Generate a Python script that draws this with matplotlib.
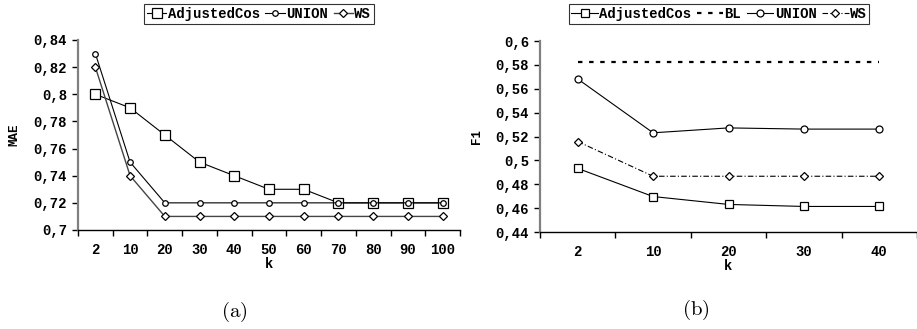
import numpy as np
import matplotlib
matplotlib.use("Agg")
import matplotlib.pyplot as plt
from matplotlib.ticker import FixedLocator, FuncFormatter

plt.rcParams["mathtext.fontset"] = "cm"

# panel (a): MAE vs k
k_a = ["2", "10", "20", "30", "40", "50", "60", "70", "80", "90", "100"]
mae_adjcos = [0.80, 0.79, 0.77, 0.75, 0.74, 0.73, 0.73, 0.72, 0.72, 0.72, 0.72]
mae_union = [0.83, 0.75, 0.72, 0.72, 0.72, 0.72, 0.72, 0.72, 0.72, 0.72, 0.72]
mae_ws = [0.82, 0.74, 0.71, 0.71, 0.71, 0.71, 0.71, 0.71, 0.71, 0.71, 0.71]

# panel (b): F1 vs k
k_b = ["2", "10", "20", "30", "40"]
f1_adjcos = [0.4933, 0.4697, 0.4631, 0.4614, 0.4614]
f1_bl = [0.5825, 0.5825, 0.5825, 0.5825, 0.5825]
f1_union = [0.5682, 0.5231, 0.5272, 0.5262, 0.5262]
f1_ws = [0.5158, 0.4867, 0.4867, 0.4867, 0.4867]

W, H = 917, 329
mono = "Liberation Mono"
fs = 10

fig = plt.figure(figsize=(W / 100, H / 100), dpi=100)


def px_axes(x0, x1, y0, y1):
    return fig.add_axes([x0 / W, 1 - y1 / H, (x1 - x0) / W, (y1 - y0) / H])


def comma(v, pos):
    s = f"{v:.2f}".rstrip("0").rstrip(".")
    return s.replace(".", ",")


def style_axes(ax, cats, ylim, yticks, ylabel, ylab_x):
    n = len(cats)
    ax.set_xlim(-0.5, n - 0.5)
    ax.set_ylim(*ylim)
    for s in ["top", "right"]:
        ax.spines[s].set_visible(False)
    ax.spines["left"].set_color("#808080")
    ax.spines["left"].set_linewidth(1.6)
    ax.spines["bottom"].set_color("black")
    ax.spines["bottom"].set_linewidth(1.0)
    ax.xaxis.set_major_locator(FixedLocator(np.arange(-0.5, n, 1.0)))
    ax.xaxis.set_minor_locator(FixedLocator(np.arange(n)))
    ax.xaxis.set_minor_formatter(FuncFormatter(lambda v, p: cats[int(round(v))]))
    ax.tick_params(axis="x", which="major", length=4, width=1, labelbottom=False)
    ax.tick_params(axis="x", which="minor", length=0, pad=9)
    ax.set_yticks(yticks)
    ax.yaxis.set_major_formatter(FuncFormatter(comma))
    ax.tick_params(axis="y", length=4, width=1, pad=4)
    fig.canvas.draw()
    labs = ax.get_yticklabels() + ax.get_xticklabels(minor=True)
    for lab in labs:
        lab.set_fontfamily(mono)
        lab.set_fontweight("bold")
        lab.set_fontsize(fs)
    ax.set_xlabel("k", fontfamily=mono, fontweight="bold", fontsize=fs, labelpad=0)
    ax.set_ylabel(ylabel, fontfamily=mono, fontweight="bold", fontsize=fs - 1)
    ax.yaxis.set_label_coords(ylab_x, 0.5)


legend_kw = dict(loc="upper center", frameon=True, fancybox=False,
                 edgecolor="black", handletextpad=0.1,
                 columnspacing=0.4, borderpad=0.2, borderaxespad=0,
                 prop={"family": mono, "weight": "bold", "size": fs})

# ---- panel (a)
ax1 = px_axes(78, 460, 40, 230)
x = np.arange(len(k_a))
ax1.plot(x, mae_adjcos, "-", color="black", lw=0.8, marker="s", ms=6.5,
         mfc="white", mec="black", mew=0.9, label="AdjustedCos")
ax1.plot(x, mae_union, "-", color="black", lw=0.8, marker="o", ms=4,
         mfc="white", mec="black", mew=0.9, label="UNION")
ax1.plot(x, mae_ws, "-", color="#444444", lw=1.0, marker="D", ms=3.6,
         mfc="white", mec="black", mew=0.9, label="WS")
style_axes(ax1, k_a, (0.70, 0.84), np.arange(0.70, 0.8401, 0.02), "MAE", -0.15)

leg1 = fig.legend(*ax1.get_legend_handles_labels(), ncol=3, handlelength=1.4,
                  bbox_to_anchor=(259 / W, 1 - 4 / H), **legend_kw)
leg1.get_frame().set_linewidth(0.8)

# ---- panel (b)
ax2 = px_axes(540, 917, 41, 232)
x = np.arange(len(k_b))
ax2.plot(x, f1_adjcos, "-", color="black", lw=0.8, marker="s", ms=6,
         mfc="white", mec="black", mew=0.9, label="AdjustedCos")
ax2.plot(x, f1_bl, color="black", lw=1.6, ls=(0, (2, 3)), label="BL")
ax2.plot(x, f1_union, "-", color="black", lw=0.8, marker="o", ms=5,
         mfc="white", mec="black", mew=0.9, label="UNION")
ax2.plot(x, f1_ws, color="black", lw=0.8, ls=(0, (5, 2, 1, 2)), marker="D", ms=4,
         mfc="white", mec="black", mew=0.9, label="WS")
style_axes(ax2, k_b, (0.44, 0.60), np.arange(0.44, 0.6001, 0.02), "F1", -0.15)

leg2 = fig.legend(*ax2.get_legend_handles_labels(), ncol=4, handlelength=1.9,
                  bbox_to_anchor=(719 / W, 1 - 4 / H), **legend_kw)
leg2.get_frame().set_linewidth(0.8)

# captions
fig.text(234 / W, 1 - 312 / H, r"$\mathrm{(a)}$", ha="center", va="center",
         fontsize=15)
fig.text(696 / W, 1 - 310 / H, r"$\mathrm{(b)}$", ha="center", va="center",
         fontsize=15)

fig.savefig("out.png", dpi=100)
